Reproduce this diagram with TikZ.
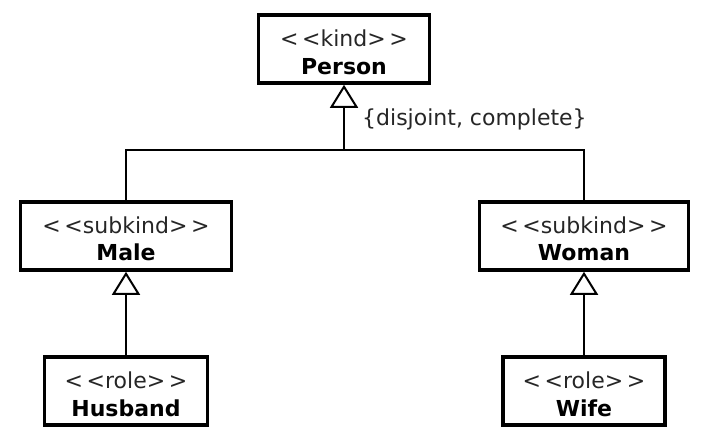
\documentclass[tikz,border=0pt]{standalone}
\usepackage{fontspec}
\setmainfont[Ligatures=NoCommon]{DejaVu Sans}
\usetikzlibrary{arrows.meta}
\newcommand{\lt}{{<}}
\newcommand{\gtt}{{>}}
\begin{document}
\begin{tikzpicture}[x=1pt,y=-1pt,
  cls/.style={draw=black, line width=3.6pt, minimum width=#1, minimum height=68pt, inner sep=0pt},
  ster/.style={anchor=base, font=\fontsize{22}{26}\selectfont, text=black!85, inner sep=0pt},
  cname/.style={anchor=base, font=\fontsize{22}{26}\selectfont\bfseries, inner sep=0pt},
  gen/.style={line width=2pt, -{Triangle[open, width=28pt, length=23pt, line width=2pt]}},
  plain/.style={line width=2pt}]
\useasboundingbox (0,0) rectangle (710,442);
% boxes
\node[cls=171pt] (person) at (344,49) {};
\node[cls=211pt] (male) at (126,236) {};
\node[cls=209pt] (woman) at (584,236) {};
\node[cls=163pt] (husband) at (126,391) {};
\node[cls=162pt] (wife) at (584,391) {};
% texts
\node[ster] (personS) at (344,46) {\lt\,\lt kind\gtt\,\gtt};
\node[cname] (personN) at (344,74) {Person};
\node[ster] (maleS) at (126,233) {\lt\,\lt subkind\gtt\,\gtt};
\node[cname] (maleN) at (126,260) {Male};
\node[ster] (womanS) at (584,233) {\lt\,\lt subkind\gtt\,\gtt};
\node[cname] (womanN) at (584,260) {Woman};
\node[ster] (husbandS) at (126,388) {\lt\,\lt role\gtt\,\gtt};
\node[cname] (husbandN) at (126,416) {Husband};
\node[ster] (wifeS) at (584,388) {\lt\,\lt role\gtt\,\gtt};
\node[cname] (wifeN) at (584,416) {Wife};
% generalization set
\coordinate (j) at (344,150);
\draw[plain] (male.north) -- (male.north |- j) -- (woman.north |- j) -- (woman.north);
\draw[gen] (j) -- (person.south);
\node[ster, anchor=base west] (gs) at (362,125) {\{disjoint, complete\}};
% role generalizations
\draw[gen] (husband.north) -- (male.south);
\draw[gen] (wife.north) -- (woman.south);
\end{tikzpicture}
\end{document}
